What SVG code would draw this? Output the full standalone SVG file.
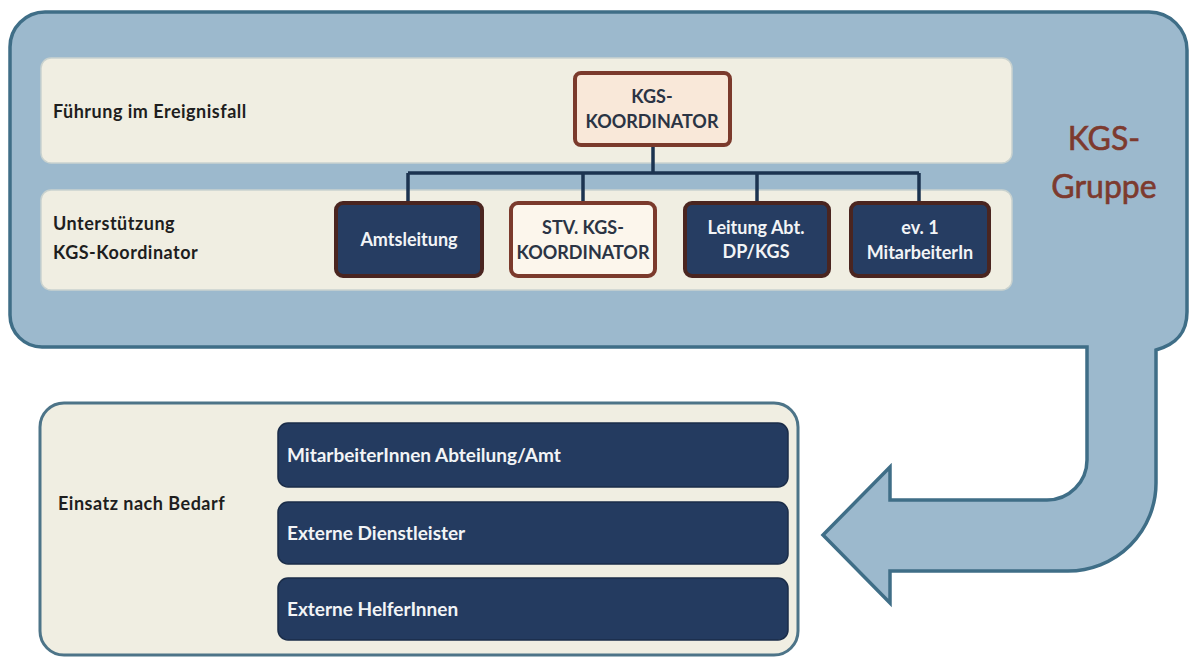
<svg xmlns="http://www.w3.org/2000/svg" width="1190" height="657" viewBox="0 0 1190 657">
  <style>
    .lbl { font-family: Lato, "Open Sans", "Liberation Sans", sans-serif; font-weight: 700; font-size: 18px; letter-spacing: 0.5px; fill: #1e1e1e; }
    .ctext { font-family: Lato, "Open Sans", "Liberation Sans", sans-serif; font-weight: 700; font-size: 18px; fill: #2b3444; text-anchor: middle; }
    .dtext { font-family: Lato, "Open Sans", "Liberation Sans", sans-serif; font-weight: 700; font-size: 18px; fill: #f2f4f6; text-anchor: middle; }
    .btext { font-family: Lato, "Open Sans", "Liberation Sans", sans-serif; font-weight: 700; font-size: 19px; fill: #f2f4f6; }
    .group { font-family: Lato, "Open Sans", "Liberation Sans", sans-serif; font-weight: 400; font-size: 32px; fill: #7d3a2e; stroke: #7d3a2e; stroke-width: 0.6; text-anchor: middle; }
    .panel { fill: #f0eee2; stroke: #c9d2cf; stroke-width: 1.5; }
    .cream { fill: #f9e8d9; stroke: #7b3a2c; stroke-width: 4; }
    .cream2 { fill: #fcf6ec; stroke: #7b3a2c; stroke-width: 4; }
    .navy { fill: #263d62; stroke: #4a2520; stroke-width: 4; }
    .bar { fill: #243b60; stroke: #1a2c48; stroke-width: 1.5; }
    .conn { fill: none; stroke: #1b3350; stroke-width: 3.5; }
  </style>

  <!-- KGS group frame with the return arrow -->
  <g id="kgs-gruppe">
    <path d="M45,12 H1149 A38,38 0 0 1 1187,50 V312 C1187,335 1174,345 1156,350 V483 A88,88 0 0 1 1068,571 H890 V603 L823,535 L890,467 V500 H1047 A40,40 0 0 0 1087,460 V347 H42 A32,32 0 0 1 10,315 V47 A35,35 0 0 1 45,12 Z" fill="#9cb9cd" stroke="#3f6e87" stroke-width="3.5"/>
    <text class="group" x="1104" y="150">KGS-</text>
    <text class="group" x="1104" y="198">Gruppe</text>
  </g>

  <!-- Level panels -->
  <g id="panel-fuehrung">
    <rect class="panel" x="41" y="58" width="971" height="105" rx="10"/>
    <text class="lbl" x="53" y="118">Führung im Ereignisfall</text>
  </g>
  <g id="panel-unterstuetzung">
    <rect class="panel" x="41" y="190" width="971" height="100" rx="10"/>
    <text class="lbl" x="53" y="230">Unterstützung</text>
    <text class="lbl" x="53" y="259">KGS-Koordinator</text>
  </g>

  <!-- Connectors -->
  <g id="connectors">
    <path class="conn" d="M653,145 V173 M408,173 H919 M408,173 V203 M583,173 V203 M757,173 V203 M919,173 V203"/>
  </g>

  <!-- Nodes -->
  <g id="kgs-koordinator">
    <rect class="cream" x="575" y="73" width="155" height="72" rx="6"/>
    <text class="ctext" x="652" y="103">KGS-</text>
    <text class="ctext" x="652" y="128">KOORDINATOR</text>
  </g>
  <g id="amtsleitung">
    <rect class="navy" x="336" y="203" width="146" height="73" rx="7"/>
    <text class="dtext" x="409" y="246">Amtsleitung</text>
  </g>
  <g id="stv-koordinator">
    <rect class="cream2" x="511" y="203" width="144" height="73" rx="7"/>
    <text class="ctext" x="583" y="234">STV. KGS-</text>
    <text class="ctext" x="583" y="259">KOORDINATOR</text>
  </g>
  <g id="leitung-abt">
    <rect class="navy" x="685" y="203" width="144" height="73" rx="7"/>
    <text class="dtext" x="756" y="234">Leitung Abt.</text>
    <text class="dtext" x="756" y="258">DP/KGS</text>
  </g>
  <g id="mitarbeiterin">
    <rect class="navy" x="851" y="203" width="138" height="73" rx="7"/>
    <text class="dtext" x="920" y="234">ev. 1</text>
    <text class="dtext" x="920" y="259">MitarbeiterIn</text>
  </g>

  <!-- Deployment on demand -->
  <g id="einsatz">
    <rect x="40" y="403" width="758" height="252" rx="24" fill="#f0eee2" stroke="#4d7488" stroke-width="3"/>
    <text class="lbl" x="58" y="510">Einsatz nach Bedarf</text>
  </g>
  <g id="mitarbeiterinnen-abteilung">
    <rect class="bar" x="278" y="423" width="510" height="64" rx="10"/>
    <text class="btext" x="287" y="462">MitarbeiterInnen Abteilung/Amt</text>
  </g>
  <g id="externe-dienstleister">
    <rect class="bar" x="278" y="502" width="510" height="62" rx="10"/>
    <text class="btext" x="287" y="540">Externe Dienstleister</text>
  </g>
  <g id="externe-helferinnen">
    <rect class="bar" x="278" y="578" width="510" height="62" rx="10"/>
    <text class="btext" x="287" y="616">Externe HelferInnen</text>
  </g>
</svg>
